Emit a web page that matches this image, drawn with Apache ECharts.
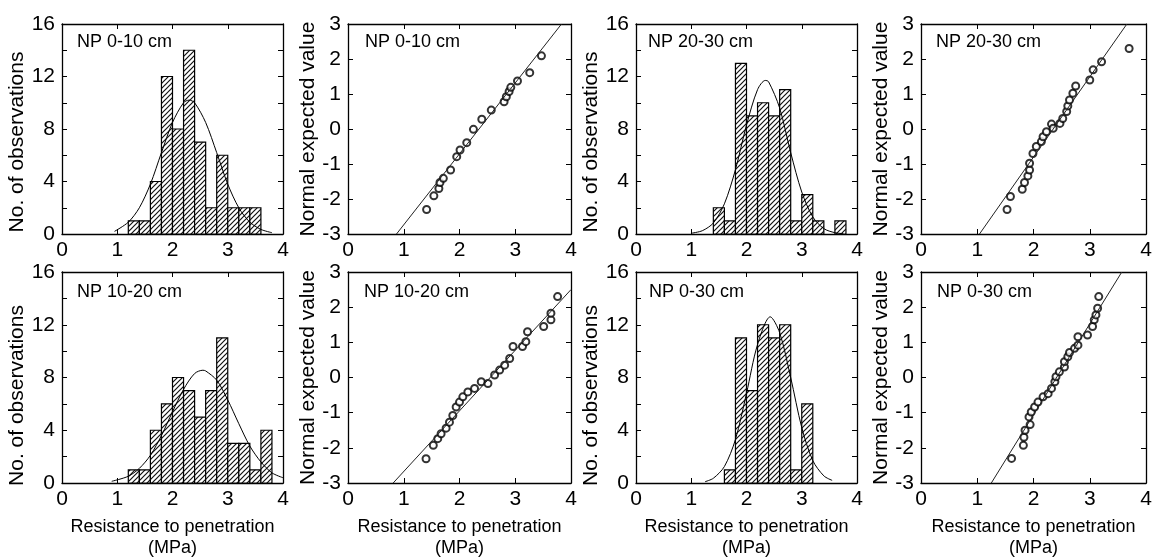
<!DOCTYPE html>
<html>
<head>
    <meta charset="utf-8">
    <title>Resistance to penetration - histograms and normal plots</title>
    <script src="https://cdn.jsdelivr.net/npm/echarts@6/dist/echarts.min.js"></script>
    <style>
        html, body { margin: 0; padding: 0; background: #fff; }
        #main { width: 1152px; height: 559px; }
    </style>
</head>
<body>
<div id="main"></div>
<script>
    // ---------------- data ----------------
    var binWidth = 0.2;

    // histograms: left edge of each bin (MPa) and count
    var bins0_10 = [1.2, 1.4, 1.6, 1.8, 2.0, 2.2, 2.4, 2.6, 2.8, 3.0, 3.2, 3.4];
    var counts0_10 = [1, 1, 4, 12, 8, 14, 7, 2, 6, 2, 2, 2];
    var bins20_30 = [1.4, 1.6, 1.8, 2.0, 2.2, 2.4, 2.6, 2.8, 3.0, 3.2, 3.6];
    var counts20_30 = [2, 1, 13, 9, 10, 9, 11, 1, 3, 1, 1];
    var bins10_20 = [1.2, 1.4, 1.6, 1.8, 2.0, 2.2, 2.4, 2.6, 2.8, 3.0, 3.2, 3.4, 3.6];
    var counts10_20 = [1, 1, 4, 6, 8, 7, 5, 7, 11, 3, 3, 1, 4];
    var bins0_30 = [1.6, 1.8, 2.0, 2.2, 2.4, 2.6, 2.8, 3.0];
    var counts0_30 = [1, 11, 7, 12, 11, 12, 1, 6];

    // fitted normal curves over the histograms (read point by point)
    var curveX0_10 = [0.95, 1.2, 1.4, 1.6, 1.8, 2.0, 2.2, 2.3, 2.4, 2.6, 2.8, 3.0, 3.2, 3.4, 3.6, 3.8];
    var curveY0_10 = [0.2, 0.9, 2.0, 3.8, 6.2, 8.5, 10.0, 10.2, 10.0, 8.5, 6.2, 3.8, 2.0, 0.9, 0.35, 0.1];
    var curveX20_30 = [1.0, 1.2, 1.4, 1.6, 1.8, 2.0, 2.2, 2.34, 2.4, 2.6, 2.8, 3.0, 3.2, 3.4, 3.6, 3.75];
    var curveY20_30 = [0.06, 0.25, 0.84, 2.3, 4.9, 8.3, 11.0, 11.7, 11.6, 9.6, 6.2, 3.2, 1.3, 0.41, 0.1, 0.03];
    var curveX10_20 = [0.9, 1.2, 1.4, 1.6, 1.8, 2.0, 2.2, 2.4, 2.55, 2.6, 2.8, 3.0, 3.2, 3.4, 3.6, 3.8, 4.0];
    var curveY10_20 = [0.13, 0.51, 1.11, 2.1, 3.6, 5.4, 7.1, 8.3, 8.55, 8.5, 7.8, 6.3, 4.5, 2.8, 1.6, 0.77, 0.4];
    var curveX0_30 = [1.25, 1.4, 1.6, 1.8, 2.0, 2.2, 2.43, 2.6, 2.8, 3.0, 3.2, 3.4, 3.55];
    var curveY0_30 = [0.1, 0.36, 1.25, 3.3, 6.8, 10.5, 12.6, 11.4, 8.0, 4.2, 1.7, 0.54, 0.2];

    // normal probability plots: observed value vs normal expected value
    var qqX0_10 = [1.41, 1.54, 1.63, 1.65, 1.71, 1.84, 1.95, 2.01, 2.13, 2.25, 2.40, 2.57, 2.80, 2.84, 2.89, 2.92, 3.04, 3.26, 3.47];
    var qqY0_10 = [-2.30, -1.91, -1.70, -1.53, -1.41, -1.17, -0.79, -0.60, -0.39, -0.01, 0.28, 0.54, 0.78, 0.92, 1.07, 1.19, 1.37, 1.61, 2.09];
    var fitX0_10 = [0.87, 3.83];
    var fitY0_10 = [-3, 3];

    var qqX20_30 = [1.53, 1.59, 1.80, 1.84, 1.90, 1.93, 1.93, 1.99, 2.05, 2.14, 2.17, 2.23, 2.32, 2.35, 2.47, 2.52, 2.59, 2.61, 2.64, 2.70, 2.75, 3.00, 3.06, 3.21, 3.70];
    var qqY20_30 = [-2.30, -1.93, -1.72, -1.53, -1.34, -1.17, -0.98, -0.70, -0.50, -0.36, -0.22, -0.08, 0.14, 0.02, 0.16, 0.30, 0.50, 0.66, 0.83, 1.02, 1.23, 1.40, 1.69, 1.92, 2.30];
    var fitX20_30 = [1.04, 3.66];
    var fitY20_30 = [-3, 3];

    var qqX10_20 = [1.40, 1.53, 1.61, 1.67, 1.76, 1.82, 1.88, 1.94, 2.00, 2.06, 2.15, 2.27, 2.39, 2.51, 2.63, 2.72, 2.81, 2.90, 2.96, 3.13, 3.19, 3.22, 3.51, 3.64, 3.64, 3.76];
    var qqY10_20 = [-2.31, -1.93, -1.74, -1.60, -1.44, -1.27, -1.08, -0.84, -0.70, -0.55, -0.41, -0.31, -0.12, -0.17, 0.07, 0.21, 0.35, 0.54, 0.88, 0.88, 1.02, 1.30, 1.45, 1.64, 1.83, 2.30];
    var fitX10_20 = [0.81, 4.0];
    var fitY10_20 = [-3, 2.5];

    var qqX0_30 = [1.61, 1.82, 1.83, 1.85, 1.94, 1.92, 1.96, 2.02, 2.08, 2.17, 2.26, 2.32, 2.38, 2.40, 2.46, 2.55, 2.55, 2.61, 2.64, 2.73, 2.79, 2.79, 2.96, 3.05, 3.08, 3.11, 3.14, 3.16];
    var qqY0_30 = [-2.30, -1.93, -1.70, -1.50, -1.34, -1.12, -0.98, -0.84, -0.70, -0.55, -0.46, -0.31, -0.12, 0.02, 0.16, 0.30, 0.45, 0.59, 0.71, 0.83, 0.92, 1.16, 1.21, 1.45, 1.64, 1.78, 1.97, 2.30];
    var fitX0_30 = [1.25, 3.57];
    var fitY0_30 = [-3, 3];

    // ---------------- layout ----------------
    var FONT = '"Liberation Sans", Arial, sans-serif';
    var cols = [{left: 62, width: 221}, {left: 348, width: 223}, {left: 636, width: 221}, {left: 921, width: 225}];
    var rows = [{top: 24, height: 210}, {top: 272, height: 211}];

    var panels = [
        {row: 0, col: 0, kind: 'hist', label: 'NP 0-10 cm', lx: 77, ly: 33, bins: bins0_10, counts: counts0_10, cx: curveX0_10, cy: curveY0_10},
        {row: 0, col: 1, kind: 'qq', label: 'NP 0-10 cm', lx: 365, ly: 33, qx: qqX0_10, qy: qqY0_10, fx: fitX0_10, fy: fitY0_10},
        {row: 0, col: 2, kind: 'hist', label: 'NP 20-30 cm', lx: 648, ly: 33, bins: bins20_30, counts: counts20_30, cx: curveX20_30, cy: curveY20_30},
        {row: 0, col: 3, kind: 'qq', label: 'NP 20-30 cm', lx: 936, ly: 33, qx: qqX20_30, qy: qqY20_30, fx: fitX20_30, fy: fitY20_30},
        {row: 1, col: 0, kind: 'hist', label: 'NP 10-20 cm', lx: 77, ly: 283, bins: bins10_20, counts: counts10_20, cx: curveX10_20, cy: curveY10_20},
        {row: 1, col: 1, kind: 'qq', label: 'NP 10-20 cm', lx: 364, ly: 283, qx: qqX10_20, qy: qqY10_20, fx: fitX10_20, fy: fitY10_20},
        {row: 1, col: 2, kind: 'hist', label: 'NP 0-30 cm', lx: 649, ly: 283, bins: bins0_30, counts: counts0_30, cx: curveX0_30, cy: curveY0_30},
        {row: 1, col: 3, kind: 'qq', label: 'NP 0-30 cm', lx: 937, ly: 283, qx: qqX0_30, qy: qqY0_30, fx: fitX0_30, fy: fitY0_30}
    ];

    // diagonal hatch used to fill the bars
    var H = 5;
    var hatch = document.createElement('canvas');
    hatch.width = H;
    hatch.height = H;
    var hctx = hatch.getContext('2d');
    hctx.fillStyle = '#fff';
    hctx.fillRect(0, 0, H, H);
    hctx.strokeStyle = '#111';
    hctx.lineWidth = 1.2;
    hctx.beginPath();
    hctx.moveTo(0, H); hctx.lineTo(H, 0);
    hctx.moveTo(-1, 1); hctx.lineTo(1, -1);
    hctx.moveTo(H - 1, H + 1); hctx.lineTo(H + 1, H - 1);
    hctx.stroke();

    var grid = [], xAxis = [], yAxis = [], series = [], title = [];
    var lineStyle = {color: '#000', width: 1.3};

    panels.forEach(function (p, i) {
        var isHist = p.kind === 'hist';
        grid.push({
            left: cols[p.col].left, width: cols[p.col].width,
            top: rows[p.row].top, height: rows[p.row].height,
            outerBoundsMode: 'none'
        });
        title.push({
            text: p.label, left: p.lx, top: p.ly, padding: 0,
            textStyle: {fontSize: 18, fontWeight: 'normal', color: '#000', fontFamily: FONT}
        });

        // bottom + top x axes
        xAxis.push({
            type: 'value', gridIndex: i, min: 0, max: 4, interval: 1,
            axisLine: {show: true, onZero: false, lineStyle: lineStyle},
            axisTick: {show: true, inside: true, length: 5, lineStyle: {color: '#000'}},
            axisLabel: {fontSize: 21, color: '#000', margin: 6, fontFamily: FONT},
            splitLine: {show: false},
            name: p.row === 1 ? 'Resistance to penetration\n(MPa)' : '',
            nameLocation: 'middle', nameGap: 34,
            nameTextStyle: {fontSize: 18, color: '#000', lineHeight: 21, fontFamily: FONT}
        });
        xAxis.push({
            type: 'value', gridIndex: i, min: 0, max: 4, interval: 1, position: 'top',
            axisLine: {show: true, onZero: false, lineStyle: lineStyle},
            axisTick: {show: true, inside: true, length: 5, lineStyle: {color: '#000'}},
            axisLabel: {show: false}, splitLine: {show: false}
        });

        // left + right y axes
        var yBase = isHist
            ? {min: 0, max: 16, interval: 2}
            : {min: -3, max: 3, interval: 1};
        // histogram axis titles sit a little below the panel centre in the original
        var namePad = isHist ? (p.row === 0 ? [0, 26, 0, 0] : [0, 36, 0, 0]) : 0;
        yAxis.push(Object.assign({
            type: 'value', gridIndex: i,
            axisLine: {show: true, onZero: false, lineStyle: lineStyle},
            axisTick: {show: true, inside: true, length: 5, lineStyle: {color: '#000'}},
            axisLabel: {
                fontSize: 21, color: '#000', margin: 7, fontFamily: FONT,
                formatter: function (v) { return isHist && v % 4 !== 0 ? '' : String(v); }
            },
            splitLine: {show: false},
            name: isHist ? 'No. of observations' : 'Normal expected value',
            nameLocation: 'middle', nameRotate: 90, nameGap: isHist ? 28 : 24,
            nameTextStyle: {fontSize: 21, color: '#000', fontFamily: FONT, padding: namePad}
        }, yBase));
        yAxis.push(Object.assign({
            type: 'value', gridIndex: i, position: 'right',
            axisLine: {show: true, onZero: false, lineStyle: lineStyle},
            axisTick: {show: true, inside: true, length: 5, lineStyle: {color: '#000'}},
            axisLabel: {show: false}, splitLine: {show: false}
        }, yBase));

        var xi = 2 * i, yi = 2 * i;
        if (isHist) {
            var barData = p.bins.map(function (b, k) {
                return [b, b + binWidth, p.counts[k]];
            });
            series.push({
                type: 'custom', xAxisIndex: xi, yAxisIndex: yi,
                encode: {x: [0, 1], y: 2},
                data: barData,
                renderItem: function (params, api) {
                    var p0 = api.coord([api.value(0), api.value(2)]);
                    var p1 = api.coord([api.value(1), 0]);
                    return {
                        type: 'rect',
                        shape: {x: p0[0], y: p0[1], width: p1[0] - p0[0], height: p1[1] - p0[1]},
                        style: {fill: {image: hatch, repeat: 'repeat'}, stroke: '#000', lineWidth: 1.2}
                    };
                }
            });
            series.push({
                type: 'line', xAxisIndex: xi, yAxisIndex: yi, smooth: 0.3, showSymbol: false,
                lineStyle: {color: '#000', width: 1}, z: 5,
                data: p.cx.map(function (x, k) { return [x, p.cy[k]]; })
            });
        } else {
            series.push({
                type: 'line', xAxisIndex: xi, yAxisIndex: yi, showSymbol: false,
                lineStyle: {color: '#222', width: 1},
                data: p.fx.map(function (x, k) { return [x, p.fy[k]]; })
            });
            series.push({
                type: 'scatter', xAxisIndex: xi, yAxisIndex: yi, symbol: 'emptyCircle', symbolSize: 7,
                itemStyle: {color: '#000', borderColor: '#000', borderWidth: 0.8},
                data: p.qx.map(function (x, k) { return [x, p.qy[k]]; })
            });
        }
    });

    var chart = echarts.init(document.getElementById('main'));
    chart.setOption({
        animation: false,
        backgroundColor: '#fff',
        title: title,
        grid: grid,
        xAxis: xAxis,
        yAxis: yAxis,
        series: series
    });
</script>
</body>
</html>
